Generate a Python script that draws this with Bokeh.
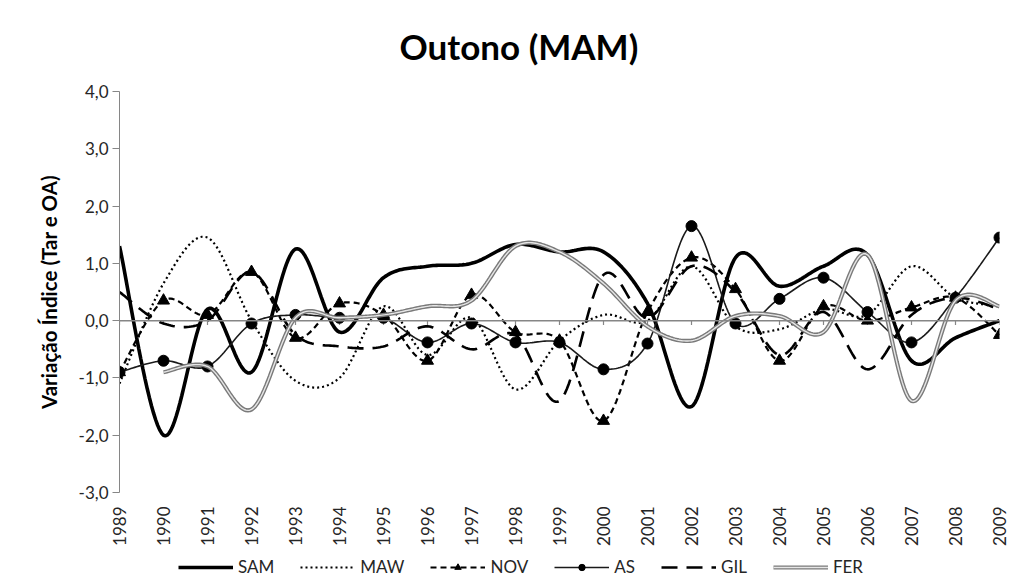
import numpy as np
from bokeh.plotting import figure
from bokeh.layouts import column
from bokeh.models import FixedTicker, LinearAxis, Span, Legend, LegendItem, Range1d
from bokeh.embed import file_html
from bokeh.resources import INLINE

years = list(range(1989, 2010))
SAM = [1.3, -2.0, 0.2, -0.9, 1.25, -0.2, 0.75, 0.95, 1.0, 1.33, 1.2, 1.2, 0.3, -1.5, 1.1, 0.6, 0.95, 1.15, -0.7, -0.3, 0.0]
MAW = [-1.1, 0.65, 1.45, 0.0, -1.05, -1.0, 0.25, -0.6, 0.05, -1.2, -0.35, 0.1, 0.0, 0.95, -0.1, -0.15, 0.2, 0.1, 0.95, 0.4, 0.25]
NOV = [-0.9, 0.35, 0.1, 0.85, -0.3, 0.3, 0.1, -0.7, 0.45, -0.2, -0.35, -1.75, 0.15, 1.1, 0.55, -0.7, 0.25, 0.0, 0.23, 0.4, -0.25]
AS = [-0.9, -0.7, -0.8, -0.05, 0.1, 0.05, 0.05, -0.38, -0.05, -0.38, -0.38, -0.85, -0.4, 1.65, -0.05, 0.38, 0.75, 0.15, -0.38, 0.4, 1.45]
GIL = [0.5, -0.05, 0.0, 0.85, -0.25, -0.45, -0.45, -0.1, -0.5, -0.25, -1.4, 0.8, 0.05, 0.95, 0.5, -0.6, 0.15, -0.85, 0.1, 0.4, 0.2]
FER = [None, -0.9, -0.8, -1.55, 0.05, 0.05, 0.1, 0.25, 0.35, 1.3, 1.2, 0.65, -0.1, -0.35, 0.08, 0.08, -0.2, 1.15, -1.4, 0.35, 0.25]
y_ticks = [-3, -2, -1, 0, 1, 2, 3, 4]
y_tick_labels = ["-3,0", "-2,0", "-1,0", "0,0", "1,0", "2,0", "3,0", "4,0"]
series_names = ["SAM", "MAW", "NOV", "AS", "GIL", "FER"]

FONT = "Lato"
TXT = "#262626"

STYLES = {
    "SAM": dict(line_color="#000000", line_width=3.6),
    "MAW": dict(line_color="#000000", line_width=2.2, line_dash="2 3"),
    "NOV": dict(line_color="#000000", line_width=2.2, line_dash="6 4"),
    "AS": dict(line_color="#1a1a1a", line_width=1.6),
    "GIL": dict(line_color="#000000", line_width=2.6, line_dash="16 9"),
    "FER": dict(line_color="#7a7a7a", line_width=4.2),
}
FER_INNER = dict(line_color="#e6e6e6", line_width=1.4)
MARKERS = {"NOV": "triangle", "AS": "circle"}
MSIZE = {"NOV": 12, "AS": 11}


def smooth(xs, ys, n=24):
    pts = np.array([(x, y) for x, y in zip(xs, ys) if y is not None], float)
    m = len(pts)
    t = np.linspace(0, 1, n + 1)[1:][:, None]
    out = [pts[0]]
    for i in range(m - 1):
        p0 = pts[i - 1] if i > 0 else pts[i]
        p1, p2 = pts[i], pts[i + 1]
        p3 = pts[i + 2] if i + 2 < m else pts[i + 1]
        c1 = p1 + (p2 - p0) / 6.0
        c2 = p2 - (p3 - p1) / 6.0
        seg = (1 - t) ** 3 * p1 + 3 * (1 - t) ** 2 * t * c1 + 3 * (1 - t) * t ** 2 * c2 + t ** 3 * p2
        out.extend(seg)
    out = np.array(out)
    return out[:, 0], out[:, 1]


W = 1009
p = figure(width=W, height=556, x_range=Range1d(1989, 2009), y_range=Range1d(-3, 4),
           output_backend="svg", toolbar_location=None, x_axis_type=None, y_axis_type=None,
           min_border_left=119, min_border_right=10, min_border_top=91, min_border_bottom=64)
p.outline_line_color = None
p.xgrid.visible = False
p.ygrid.visible = False

p.title.text = "Outono (MAM)"
p.title.align = "left"
p.title.vertical_align = "top"
p.title.offset = 280
p.title.standoff = 46
p.title.text_font = FONT
p.title.text_font_size = "35px"
p.title.text_font_style = "bold"
p.title.text_color = "#000000"

# y axis
yax = LinearAxis(ticker=FixedTicker(ticks=y_ticks))
yax.major_label_overrides = {k: v for k, v in zip(y_ticks, y_tick_labels)}
yax.axis_line_color = "#868686"
yax.major_tick_line_color = "#868686"
yax.major_tick_out = 7
yax.major_tick_in = 0
yax.minor_tick_line_color = None
yax.major_label_standoff = 4
yax.major_label_text_font = FONT
yax.major_label_text_font_size = "17px"
yax.major_label_text_color = TXT
yax.axis_label = "Variação Índice (Tar e OA)"
yax.axis_label_text_font = FONT
yax.axis_label_text_font_size = "20.5px"
yax.axis_label_text_font_style = "bold"
yax.axis_label_text_color = "#000000"
yax.axis_label_standoff = 15
p.add_layout(yax, "left")

# x labels at the bottom
xax = LinearAxis(ticker=FixedTicker(ticks=years))
xax.major_label_overrides = {y: str(y) for y in years}
xax.axis_line_color = None
xax.major_tick_line_color = None
xax.minor_tick_line_color = None
xax.major_tick_out = 0
xax.major_tick_in = 0
xax.major_label_orientation = np.pi / 2
xax.major_label_standoff = 14
xax.major_label_text_font = FONT
xax.major_label_text_font_size = "17px"
xax.major_label_text_color = TXT
p.add_layout(xax, "below")

# zero line with ticks
p.add_layout(Span(location=0, dimension="width", line_color="#868686", line_width=1.5))
p.segment(x0=years, y0=[0] * len(years), x1=years, y1=[-0.075] * len(years),
          line_color="#868686", line_width=1.2)

data = {"SAM": SAM, "MAW": MAW, "NOV": NOV, "AS": AS, "GIL": GIL, "FER": FER}
for name in series_names:
    xs, ys = smooth(years, data[name])
    p.line(xs, ys, **STYLES[name])
    if name == "FER":
        p.line(xs, ys, **FER_INNER)
    if name in MARKERS:
        p.scatter(years, data[name], marker=MARKERS[name], size=MSIZE[name],
                  fill_color="#000000", line_color="#000000")

# legend strip below the chart (its frame is aligned with the chart frame)
lf = figure(width=W, height=24, x_range=Range1d(0, 1), y_range=Range1d(0, 1),
            output_backend="svg", toolbar_location=None, x_axis_type=None, y_axis_type=None,
            min_border_left=0, min_border_right=0, min_border_top=0, min_border_bottom=0)
lf.outline_line_color = None
lf.xgrid.visible = False
lf.ygrid.visible = False
nan = [float("nan")]
items = []
for name in series_names:
    rs = [lf.line(nan, nan, **STYLES[name])]
    if name == "FER":
        rs.append(lf.line(nan, nan, **FER_INNER))
    if name in MARKERS:
        rs.append(lf.scatter(nan, nan, marker=MARKERS[name], size=MSIZE[name],
                             fill_color="#000000", line_color="#000000"))
    items.append(LegendItem(label=name, renderers=rs))

legend = Legend(items=items, location=(59, 3), orientation="horizontal")
legend.glyph_width = 55
legend.glyph_height = 16
legend.label_standoff = 5
legend.spacing = 26
legend.padding = 0
legend.margin = 0
legend.border_line_color = None
legend.background_fill_alpha = 0
legend.label_text_font = FONT
legend.label_text_font_size = "17px"
legend.label_text_color = TXT
lf.add_layout(legend, "center")

layout = column(p, lf, spacing=0)
open("out.html", "w").write(file_html(layout, INLINE))
